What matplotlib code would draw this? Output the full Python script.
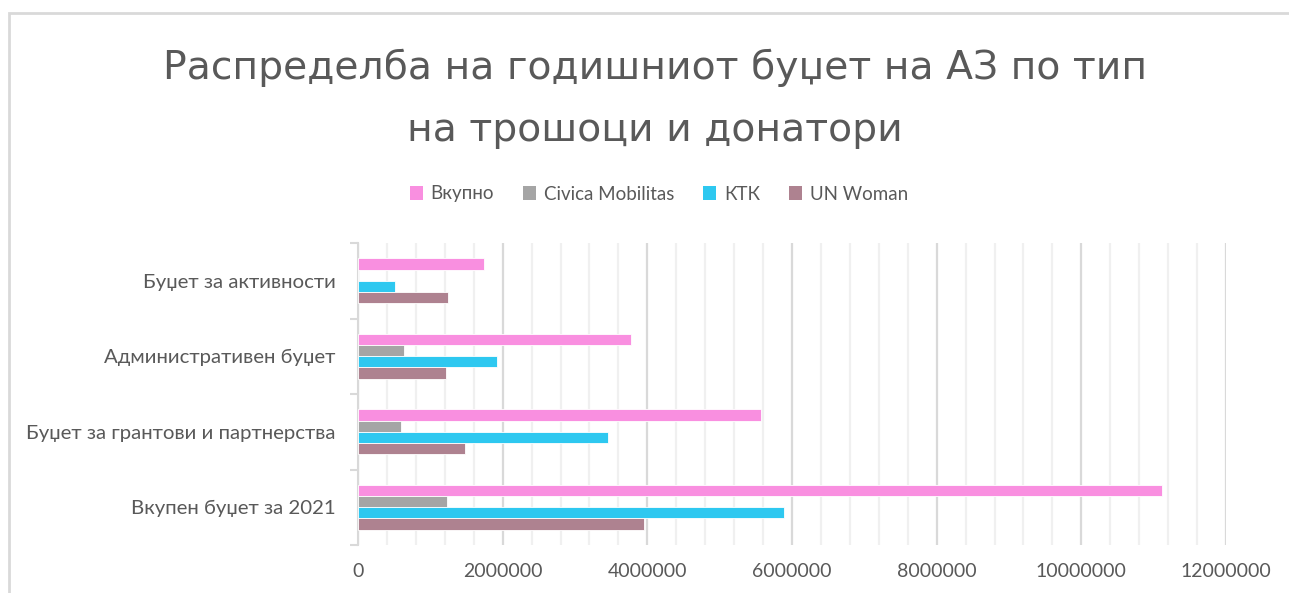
import matplotlib
matplotlib.use("Agg")
import matplotlib.pyplot as plt
from matplotlib.patches import Rectangle, Patch
from matplotlib.ticker import MultipleLocator, FixedLocator
import numpy as np

plt.rcParams['font.family'] = ['Lato', 'DejaVu Sans']

categories = ["Вкупен буџет за 2021", "Буџет за грантови и партнерства",
              "Административен буџет", "Буџет за активности"]
series_names = ["Вкупно", "Civica Mobilitas", "КТК", "UN Woman"]
vkupno = [11110000, 5570000, 3770000, 1745000]
civica = [1230000, 590000, 630000, 0]
ktk = [5890000, 3460000, 1920000, 507000]
un_woman = [3950000, 1480000, 1220000, 1250000]
colors = ["#F98FE0", "#A5A5A5", "#2EC8F0", "#AE8290"]
title_lines = ["Распределба на годишниот буџет на АЗ по тип", "на трошоци и донатори"]
xticks = [0, 2000000, 4000000, 6000000, 8000000, 10000000, 12000000]

W, H = 1289, 593
fig = plt.figure(figsize=(W / 100, H / 100), dpi=100)

# outer chart border
fig.patches.append(Rectangle((9 / W, -0.1), 1.2, 1 - 13 / H + 0.1, transform=fig.transFigure,
                             fill=False, edgecolor="#D9D9D9", linewidth=2))

ax = fig.add_axes([358 / W, 1 - 545 / H, (1226 - 358) / W, (545 - 243) / H])
y = np.arange(len(categories))
h = 0.148
offsets = [1.5 * h, 0.5 * h, -0.5 * h, -1.5 * h]
for vals, c, off, name in zip([vkupno, civica, ktk, un_woman], colors, offsets, series_names):
    ax.barh(y + off, vals, height=h, color=c, edgecolor="white", linewidth=0.6, label=name, zorder=3)

ax.set_xlim(0, 12000000)
ax.set_ylim(-0.5, 3.5)
ax.set_xticks(xticks)
ax.set_xticklabels([str(v) for v in xticks])
ax.xaxis.set_minor_locator(MultipleLocator(400000))
ax.grid(axis="x", which="major", color="#D9D9D9", linewidth=1.6, zorder=0)
ax.grid(axis="x", which="minor", color="#F0F0F0", linewidth=1.6, zorder=0)
ax.tick_params(axis="x", which="both", length=0, pad=13, labelsize=14, labelcolor="#595959")

ax.set_yticks(y)
ax.set_yticklabels(categories)
ax.yaxis.set_minor_locator(FixedLocator([-0.5, 0.5, 1.5, 2.5, 3.5]))
ax.tick_params(axis="y", which="major", length=0, pad=16, labelsize=14.7, labelcolor="#595959")
ax.tick_params(axis="y", which="minor", length=6, width=1.5, color="#D9D9D9")

for s in ["top", "right", "bottom"]:
    ax.spines[s].set_visible(False)
ax.spines["left"].set_color("#D9D9D9")
ax.spines["left"].set_linewidth(1.5)

for line, ypx in zip(title_lines, [68, 130]):
    fig.text(655 / W, 1 - ypx / H, line, ha="center", va="center",
             fontsize=28.3, color="#595959", family=["DejaVu Sans"], fontweight="normal")

handles = [Patch(facecolor=c, edgecolor="none") for c in colors]
fig.legend(handles, series_names, loc="center", bbox_to_anchor=(659 / W, 1 - 194 / H), ncol=4,
           frameon=False, fontsize=13.5, labelcolor="#595959", handlelength=0.7, handleheight=0.7,
           handletextpad=0.4, columnspacing=1.55)

fig.savefig("out.png", dpi=100)
